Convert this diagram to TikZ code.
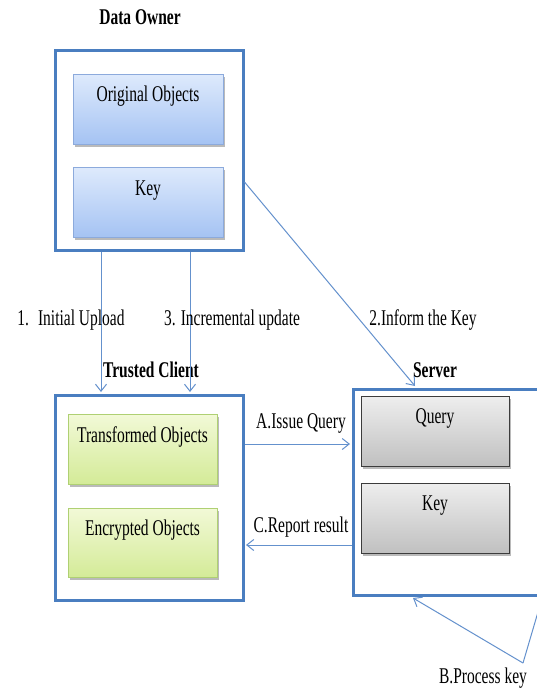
\documentclass[tikz,border=0pt]{standalone}
\usepackage{fontspec}
\setmainfont{Liberation Serif}
\usetikzlibrary{arrows.meta,shadows}
\definecolor{obord}{RGB}{74,126,192}
\definecolor{arrc}{RGB}{100,145,205}
\definecolor{bluetop}{RGB}{222,234,252}
\definecolor{bluebot}{RGB}{165,195,243}
\definecolor{blued}{RGB}{140,170,220}
\definecolor{greentop}{RGB}{242,249,215}
\definecolor{greenbot}{RGB}{212,235,152}
\definecolor{greend}{RGB}{175,208,115}
\definecolor{graytop}{RGB}{238,238,238}
\definecolor{graybot}{RGB}{192,192,192}
\definecolor{grayd}{RGB}{60,60,60}
\newcommand{\vs}[1]{\scalebox{1}[1.45]{#1}}
\tikzset{
  outerbox/.style={draw=obord, line width=3pt, fill=white, inner sep=0pt},
  innerbase/.style={inner sep=0pt, drop shadow={shadow xshift=2pt, shadow yshift=-2.5pt, opacity=0.45, fill=black!60}},
  bluebox/.style={innerbase, draw=blued, line width=0.8pt, top color=bluetop, bottom color=bluebot},
  greenbox/.style={innerbase, draw=greend, line width=0.8pt, top color=greentop, bottom color=greenbot},
  graybox/.style={innerbase, draw=grayd, line width=1pt, top color=graytop, bottom color=graybot},
  txt/.style={font=\fontsize{15.5}{18}\selectfont, inner sep=0pt},
  ttl/.style={font=\fontsize{15.5}{18}\selectfont\bfseries, inner sep=0pt},
  arr/.style={draw=arrc, line width=1pt, -{Straight Barb[length=7pt,width=11pt]}},
  ln/.style={draw=arrc, line width=1pt},
}
\begin{document}
\begin{tikzpicture}[x=1pt,y=-1pt]
\useasboundingbox (0,0) rectangle (537,688);
\clip (0,0) rectangle (537,688);
\fill[white] (0,0) rectangle (537,688);

% Data Owner
\node[ttl] (tDO) at (140,17) {\vs{Data Owner}};
\node[outerbox, minimum width=188pt, minimum height=200pt] (DO) at (149,150) {};
\node[bluebox, minimum width=150pt, minimum height=70pt] (OO) at (148,109) {};
\node[txt] (tOO) at ([yshift=-23pt]OO.north) {\vs{Original Objects}};
\node[bluebox, minimum width=150pt, minimum height=70pt] (K1) at (148,202) {};
\node[txt] (tK1) at ([yshift=-24pt]K1.north) {\vs{Key}};

% Trusted Client
\node[ttl] (tTC) at (151,370) {\vs{Trusted Client}};
\node[outerbox, minimum width=188pt, minimum height=205pt] (TC) at (149,497.5) {};
\node[greenbox, minimum width=149pt, minimum height=70pt] (TO) at (142.5,449) {};
\node[txt] (tTO) at ([yshift=-23pt]TO.north) {\vs{Transformed Objects}};
\node[greenbox, minimum width=149pt, minimum height=69pt] (EO) at (142.5,542.5) {};
\node[txt] (tEO) at ([yshift=-23pt]EO.north) {\vs{Encrypted Objects}};

% Server
\node[ttl] (tS) at (435,370) {\vs{Server}};
\node[outerbox, minimum width=197pt, minimum height=206pt] (S) at (451.5,492) {};
\node[graybox, minimum width=148pt, minimum height=70pt] (Q) at (435,431) {};
\node[txt] (tQ) at ([yshift=-23pt]Q.north) {\vs{Query}};
\node[graybox, minimum width=148pt, minimum height=70pt] (K2) at (435,518) {};
\node[txt] (tK2) at ([yshift=-23pt]K2.north) {\vs{Key}};

% connectors
\draw[arr] ([xshift=-48pt]DO.south) -- ([xshift=-48pt,yshift=1.5pt]TC.north);
\draw[arr] ([xshift=41pt]DO.south) -- ([xshift=41pt,yshift=1.5pt]TC.north);
\draw[arr] ([yshift=-32pt]DO.east) -- ([xshift=-36.5pt,yshift=1.5pt]S.north);

\coordinate (yA) at (0,444);
\coordinate (yC) at (0,545);
\draw[arr] (TC.east |- yA) -- ([xshift=-1.5pt]S.west |- yA);
\draw[arr] (S.west |- yC) -- ([xshift=1.5pt]TC.east |- yC);

\coordinate (Bapex) at (523,663);
\coordinate (Bout) at (543,595);
\draw[ln] (Bout) -- (Bapex);
\draw[arr] (Bapex) -- ([xshift=-38.5pt,yshift=-1.5pt]S.south);

% labels
\node[txt] (l1) at (71,320) {\vs{1.\hspace{9pt}Initial Upload}};
\node[txt] (l3) at (232,320) {\vs{3. Incremental update}};
\node[txt] (l2) at (423,320) {\vs{2.Inform the Key}};
\node[txt] (lA) at (301,423) {\vs{A.Issue Query}};
\node[txt] (lC) at (301,527) {\vs{C.Report result}};
\node[txt] (lB) at (483,678) {\vs{B.Process key}};
\end{tikzpicture}
\end{document}
